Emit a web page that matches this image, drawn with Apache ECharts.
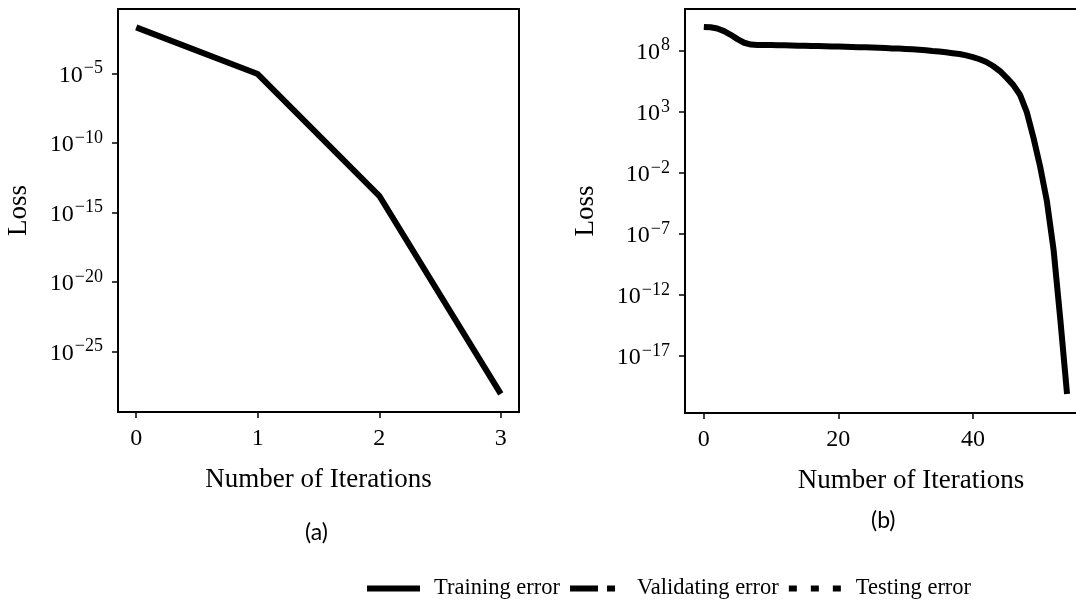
<!DOCTYPE html>
<html>
<head>
<meta charset="utf-8">
<script src="https://cdn.jsdelivr.net/npm/echarts@6/dist/echarts.min.js"></script>
<style>
html,body{margin:0;padding:0;background:#fff;}
#chart{width:1076px;height:600px;}
</style>
</head>
<body>
<div id="chart"></div>
<script>
// ---- data ----
const iterA = [0, 1, 2, 3];
const lossA = [2.0e-2, 8.9e-6, 1.6e-14, 9.5e-29];

const iterB = [0,1,2,3,4,5,6,7,8,9,10,11,12,13,14,15,16,17,18,19,20,21,22,23,24,25,26,27,28,29,30,31,32,33,34,35,36,37,38,39,40,41,42,43,44,45,46,47,48,49,50,51,52,53,54];
const lossB = [8.9e9, 8.3e9, 6.6e9, 4.0e9, 2.0e9, 8.9e8, 4.5e8, 3.2e8, 3.0e8, 2.95e8,
               2.9e8, 2.8e8, 2.75e8, 2.7e8, 2.6e8, 2.55e8, 2.45e8, 2.4e8, 2.3e8, 2.25e8,
               2.2e8, 2.1e8, 2.05e8, 1.95e8, 1.9e8, 1.8e8, 1.75e8, 1.65e8, 1.55e8, 1.5e8,
               1.4e8, 1.3e8, 1.2e8, 1.1e8, 9.5e7, 8.5e7, 7.4e7, 6.3e7, 5.4e7, 4.2e7,
               3.0e7, 2.0e7, 1.2e7, 5.6e6, 2.2e6, 6.3e5, 1.6e5, 2.5e4, 1.0e3, 7.9,
               3.2e-2, 5.0e-5, 5.0e-9, 1.0e-14, 7.9e-21];

const yTicksA = [1e-5, 1e-10, 1e-15, 1e-20, 1e-25];
const yTicksB = [1e8, 1e3, 1e-2, 1e-7, 1e-12, 1e-17];
const xTicksA = [0, 1, 2, 3];
const xTicksB = [0, 20, 40];
const seriesNames = ['Training error', 'Validating error', 'Testing error'];
const panelLabels = ['(a)', '(b)'];
const xName = 'Number of Iterations';
const yName = 'Loss';

// ---- chart ----
const SERIF = '"Liberation Serif", "DejaVu Serif", serif';
const chart = echarts.init(document.getElementById('chart'), null, {renderer: 'canvas'});

function sup(v) {
  const e = Math.round(Math.log10(v));
  return '{b|10}{s|' + (e < 0 ? '\u2212' + (-e) : String(e)) + '}';
}
const yLabelRich = {
  b: {fontFamily: SERIF, fontSize: 24, color: '#000', lineHeight: 28, verticalAlign: 'bottom'},
  s: {fontFamily: SERIF, fontSize: 18, color: '#000', lineHeight: 28, verticalAlign: 'top', padding: [0, 0, 10, 1]}
};

function xAxis(idx, min, max, ticks) {
  return {
    type: 'value', gridIndex: idx, min: min, max: max,
    name: xName, nameLocation: 'middle', nameGap: 54,
    nameTextStyle: {fontFamily: SERIF, fontSize: 27, color: '#000'},
    axisLine: {show: true, onZero: false, lineStyle: {color: '#000', width: 2}},
    axisTick: {show: true, length: 6, lineStyle: {color: '#000', width: 1.5}, customValues: ticks},
    axisLabel: {fontFamily: SERIF, fontSize: 24, color: '#000', margin: 15, customValues: ticks},
    splitLine: {show: false}
  };
}
function yAxis(idx, min, max, ticks) {
  return {
    type: 'log', logBase: 10, gridIndex: idx, min: min, max: max,
    name: yName, nameLocation: 'middle', nameGap: 86, nameRotate: 90,
    nameTextStyle: {fontFamily: SERIF, fontSize: 27, color: '#000'},
    axisLine: {show: true, onZero: false, lineStyle: {color: '#000', width: 2}},
    axisTick: {show: true, length: 6, lineStyle: {color: '#000', width: 1.5}, customValues: ticks},
    axisLabel: {margin: 15, formatter: sup, rich: yLabelRich, customValues: ticks},
    splitLine: {show: false}, minorTick: {show: false}
  };
}

const lineStyles = [
  {color: '#000', width: 6, type: 'solid', cap: 'butt', join: 'round'},
  {color: '#000', width: 6, type: [27, 9, 9, 9], cap: 'butt'},
  {color: '#000', width: 6, type: [8, 14], cap: 'butt'}
];
const legendIcons = [
  'path://M0,0H53V6H0Z',
  'path://M0,0H28V6H0Z M37,0H45V6H37Z M53,6',
  'path://M0,0H8V6H0Z M22,0H30V6H22Z M44,0H52V6H44Z M53,6'
];

const series = [];
[[iterA, lossA], [iterB, lossB]].forEach(function (d, gi) {
  seriesNames.forEach(function (nm, si) {
    series.push({
      type: 'line', name: nm, xAxisIndex: gi, yAxisIndex: gi,
      data: si === 0 ? d[0].map(function (x, i) { return [x, d[1][i]]; }) : [],
      showSymbol: false, symbol: 'none', smooth: false,
      lineStyle: lineStyles[si], itemStyle: {color: '#000'},
      animation: false, z: 3 - si
    });
  });
});

chart.setOption({
  backgroundColor: '#fff',
  animation: false,
  grid: [
    {left: 118, top: 9, width: 401, height: 403, show: true, borderColor: '#000', borderWidth: 2, outerBoundsMode: 'none'},
    {left: 685, top: 9, width: 452, height: 404, show: true, borderColor: '#000', borderWidth: 2, outerBoundsMode: 'none'}
  ],
  xAxis: [xAxis(0, -0.15, 3.15, xTicksA), xAxis(1, -2.8, 64.4, xTicksB)],
  yAxis: [yAxis(0, 4.7e-30, 0.42, yTicksA), yAxis(1, 2.2e-22, 2.6e11, yTicksB)],
  legend: {
    data: seriesNames.map(function (nm, i) { return {name: nm, icon: legendIcons[i]}; }),
    left: 362, top: 572, orient: 'horizontal',
    itemWidth: 53, itemHeight: 6, itemGap: 10,
    textStyle: {fontFamily: SERIF, fontSize: 22.5, color: '#000', padding: [0, 0, 0, 9]},
    selectedMode: false
  },
  graphic: [
    {type: 'text', left: 305, top: 521, style: {text: panelLabels[0], fontFamily: 'Lato, "Open Sans", sans-serif', fontSize: 23, fill: '#000'}},
    {type: 'text', left: 871, top: 509, style: {text: panelLabels[1], fontFamily: 'Lato, "Open Sans", sans-serif', fontSize: 23, fill: '#000'}}
  ],
  series: series
});
</script>
</body>
</html>
